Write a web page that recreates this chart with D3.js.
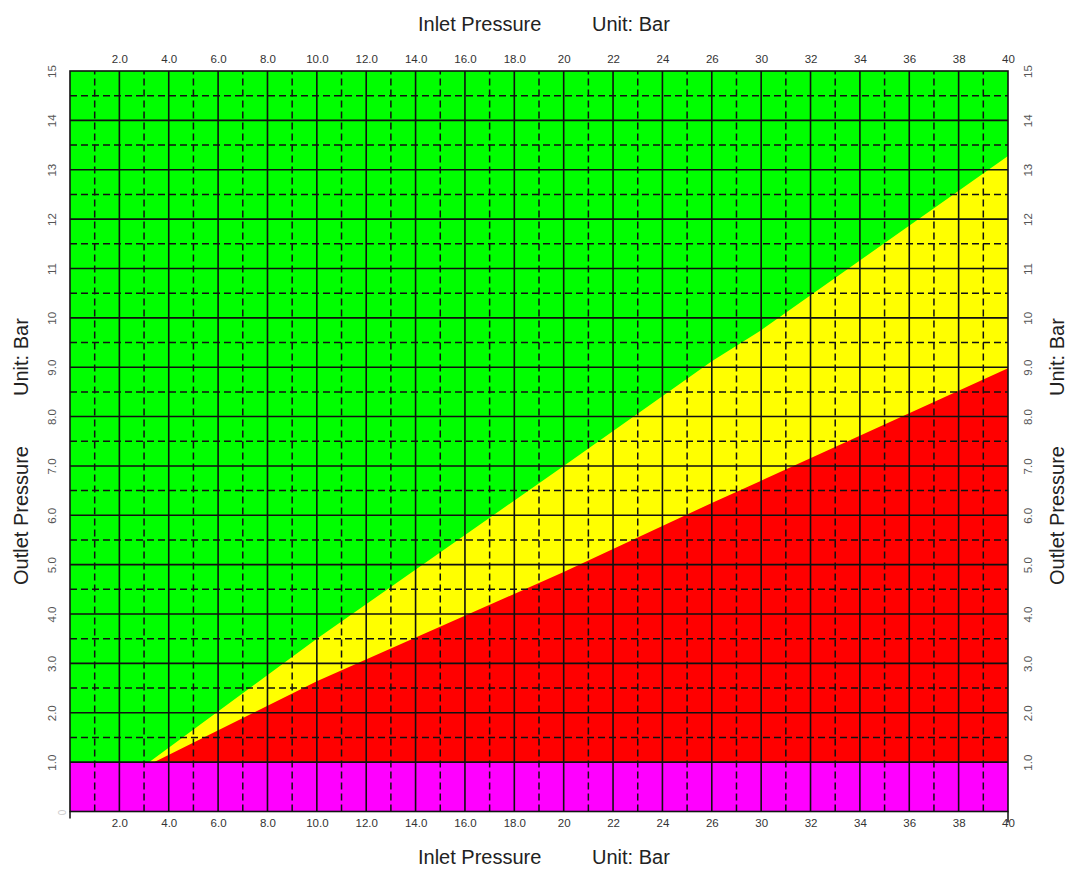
<!DOCTYPE html>
<html><head><meta charset="utf-8">
<script src="https://cdn.jsdelivr.net/npm/d3@7"></script>
<style>body{margin:0;background:#fff}svg{display:block}</style>
</head><body>
<svg id="chart" width="1068" height="869"></svg>
<script>
// ---- data ----
const xTickValues = [2,4,6,8,10,12,14,16,18,20,22,24,26,30,32,34,36,38,40];
const xTickLabels = ["2.0","4.0","6.0","8.0","10.0","12.0","14.0","16.0","18.0","20","22","24","26","30","32","34","36","38","40"];
const yTickValues = [1,2,3,4,5,6,7,8,9,10,11,12,13,14,15];
const yTickLabels = ["1.0","2.0","3.0","4.0","5.0","6.0","7.0","8.0","9.0","10","11","12","13","14","15"];
const xDomainMax = 40;
const yDomainMax = 15;
const magentaTop = 1.0;                               // outlet pressure limit of magenta band
const upperInlet  = [3.2, 10, 20, 26, 30, 40];        // green / yellow boundary
const upperOutlet = [1.0, 3.5, 7.0, 9.12, 9.75, 13.28];
const lowerInlet  = [3.4, 10, 20, 26, 30, 40];        // yellow / red boundary
const lowerOutlet = [1.0, 2.64, 4.85, 6.25, 6.7, 8.98];
const xTitle = ["Inlet Pressure", "Unit: Bar"];
const yTitle = ["Outlet Pressure", "Unit: Bar"];

// ---- layout ----
const plot = {left:70, right:1008, top:71, bottom:811.5};
const nCells = xTickValues.length;
const cell = (plot.right - plot.left) / nCells;
const xBreaks = [0, 26, 30, xDomainMax];
const x = d3.scaleLinear()
  .domain(xBreaks)
  .range(xBreaks.map(v => plot.left + (v === 0 ? 0 : xTickValues.indexOf(v) + 1) * cell));
const y = d3.scaleLinear().domain([0, yDomainMax]).range([plot.bottom, plot.top]);

const svg = d3.select("#chart");
const font = "'Liberation Sans', Arial, sans-serif";
const C = {green:"#00FF00", yellow:"#FFFF00", red:"#FF0000", magenta:"#FF00FF", grid:"#111"};

// background region (green)
svg.append("rect").attr("x", x(0)).attr("y", y(yDomainMax))
  .attr("width", x(xDomainMax) - x(0)).attr("height", y(0) - y(yDomainMax))
  .attr("fill", C.green);

const area = d3.area().x(d => x(d[0])).y0(y(magentaTop)).y1(d => y(d[1]));
svg.append("path").datum(d3.zip(upperInlet, upperOutlet)).attr("d", area).attr("fill", C.yellow);
svg.append("path").datum(d3.zip(lowerInlet, lowerOutlet)).attr("d", area).attr("fill", C.red);

svg.append("rect").attr("x", x(0)).attr("y", y(magentaTop))
  .attr("width", x(xDomainMax) - x(0)).attr("height", y(0) - y(magentaTop))
  .attr("fill", C.magenta);

// grid
const grid = svg.append("g");
const xPix = [0, ...xTickValues].map(v => x(v));
const xSolid = xTickValues.slice(0, -1).map(v => x(v));
const xDash = d3.pairs(xPix).map(([a, b]) => (a + b) / 2);
grid.selectAll(".vs").data(xSolid).join("line")
  .attr("x1", d => d).attr("x2", d => d).attr("y1", y(0)).attr("y2", y(yDomainMax))
  .attr("stroke", C.grid).attr("stroke-width", 1.6);
grid.selectAll(".vd").data(xDash).join("line")
  .attr("x1", d => d).attr("x2", d => d).attr("y1", y(0)).attr("y2", y(yDomainMax))
  .attr("stroke", C.grid).attr("stroke-width", 1.5).attr("stroke-dasharray", "7,4");
const ySolid = yTickValues.slice(0, -1);
const yDash = ySolid.map(v => v + 0.5).filter(v => v < yDomainMax);
grid.selectAll(".hs").data(ySolid).join("line")
  .attr("x1", x(0)).attr("x2", x(xDomainMax)).attr("y1", d => y(d)).attr("y2", d => y(d))
  .attr("stroke", C.grid).attr("stroke-width", 1.6);
grid.selectAll(".hd").data(yDash).join("line")
  .attr("x1", x(0)).attr("x2", x(xDomainMax)).attr("y1", d => y(d)).attr("y2", d => y(d))
  .attr("stroke", C.grid).attr("stroke-width", 1.5).attr("stroke-dasharray", "7,4");

// frame
svg.append("rect").attr("x", x(0)).attr("y", y(yDomainMax))
  .attr("width", x(xDomainMax) - x(0)).attr("height", y(0) - y(yDomainMax))
  .attr("fill", "none").attr("stroke", C.grid).attr("stroke-width", 1.6);
svg.append("line").attr("x1", x(0)).attr("x2", x(0)).attr("y1", y(0)).attr("y2", y(0) + 7)
  .attr("stroke", C.grid).attr("stroke-width", 1.5);
svg.append("line").attr("x1", x(xDomainMax)).attr("x2", x(xDomainMax)).attr("y1", y(0)).attr("y2", y(0) + 11)
  .attr("stroke", C.grid).attr("stroke-width", 1.5);

// axes
function styleAxis(g, color) {
  g.select(".domain").remove();
  g.selectAll("text").attr("font-family", font).attr("font-size", 11.5).attr("fill", color);
}
const fx = (d) => xTickLabels[xTickValues.indexOf(d)];
svg.append("g").attr("transform", `translate(0,${plot.top})`)
  .call(d3.axisTop(x).tickValues(xTickValues).tickFormat(fx).tickSize(0).tickPadding(8))
  .call(g => styleAxis(g, "#333"));
svg.append("g").attr("transform", `translate(0,${plot.bottom})`)
  .call(d3.axisBottom(x).tickValues(xTickValues).tickFormat(fx).tickSize(0).tickPadding(7))
  .call(g => styleAxis(g, "#333"));

const fy = (d) => yTickLabels[yTickValues.indexOf(d)];
svg.append("g").attr("transform", `translate(${plot.left},0)`)
  .call(d3.axisLeft(y).tickValues(yTickValues).tickFormat(fy).tickSize(0))
  .call(g => {
    styleAxis(g, "#555");
    g.selectAll("text").attr("x", 0).attr("y", 0).attr("dy", null)
      .attr("text-anchor", "middle").attr("transform", "translate(-14,0) rotate(-90)");
  });
svg.append("g").attr("transform", `translate(${plot.right},0)`)
  .call(d3.axisRight(y).tickValues(yTickValues).tickFormat(fy).tickSize(0))
  .call(g => {
    styleAxis(g, "#555");
    g.selectAll("text").attr("x", 0).attr("y", 0).attr("dy", null)
      .attr("text-anchor", "middle").attr("transform", "translate(24,0) rotate(-90)");
  });
// faint zero label
svg.append("text").attr("transform", `translate(${plot.left - 4},${y(0) + 1}) rotate(-90)`)
  .attr("text-anchor", "middle").attr("font-family", font).attr("font-size", 10)
  .attr("fill", "#ccc").text("0");

// titles
function title(tx, ty, rot, txt) {
  svg.append("text").attr("transform", `translate(${tx},${ty}) rotate(${rot})`)
    .attr("font-family", font).attr("font-size", 20).attr("fill", "#222")
    .attr("text-anchor", "start").text(txt);
}
title(418, 31, 0, xTitle[0]);
title(592, 31, 0, xTitle[1]);
title(418, 864, 0, xTitle[0]);
title(592, 864, 0, xTitle[1]);
title(28, 585, -90, yTitle[0]);
title(28, 396, -90, yTitle[1]);
title(1064, 585, -90, yTitle[0]);
title(1064, 396, -90, yTitle[1]);
</script>
</body></html>
